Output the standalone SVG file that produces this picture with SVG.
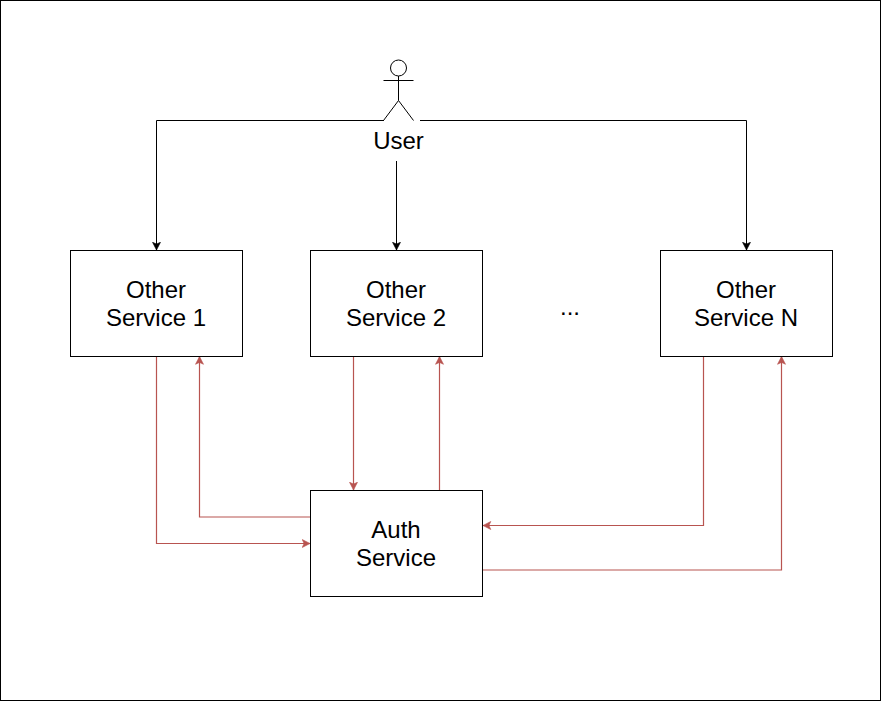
<svg xmlns="http://www.w3.org/2000/svg" width="881" height="701" viewBox="0 0 881 701">
<style>
.box{fill:#fff;stroke:#000;stroke-width:1}
.t{font-family:"Helvetica","Liberation Sans",Arial,sans-serif;font-size:24px;fill:#000;text-anchor:middle}
.k{fill:none;stroke:#000;stroke-width:1}
.r{fill:none;stroke:#b85450;stroke-width:1.2}
</style>
<defs>
<marker id="ab" markerUnits="userSpaceOnUse" markerWidth="11" markerHeight="11" refX="8.500" refY="5" orient="auto"><path d="M0.700 1L8.500 5L0.700 9L2.600 5Z" fill="#000" stroke="#000" stroke-width="0.6"/></marker>
<marker id="ar" markerUnits="userSpaceOnUse" markerWidth="11" markerHeight="11" refX="8.500" refY="5" orient="auto"><path d="M0.700 1L8.500 5L0.700 9L2.600 5Z" fill="#b85450" stroke="#b85450" stroke-width="0.6"/></marker>
</defs>
<rect id="frame" x="0.5" y="0.5" width="880" height="700" fill="#fff" stroke="#000"/>
<g id="connectors">
<path class="k" marker-end="url(#ab)" d="M384 120.500H156.500V250"/>
<path class="k" marker-end="url(#ab)" d="M396.500 161L396.500 250"/>
<path class="k" marker-end="url(#ab)" d="M420 120.500H746.500V250"/>
<path class="r" marker-end="url(#ar)" d="M156.500 356V543.500H310"/>
<path class="r" marker-end="url(#ar)" d="M310 517H199.500V356.500"/>
<path class="r" marker-end="url(#ar)" d="M353.500 356V490"/>
<path class="r" marker-end="url(#ar)" d="M439.500 490V356.500"/>
<path class="r" marker-end="url(#ar)" d="M703.500 356V525.500H483"/>
<path class="r" marker-end="url(#ar)" d="M483 570H781.500V356.500"/>
</g>
<g id="user">
<g class="k">
<circle cx="398.500" cy="68" r="8"/>
<path d="M398.500 76V100.500M383.500 80.500H413.500M398.500 100.500L383.500 120.500M398.500 100.500L413.500 120.500"/>
</g>
<text class="t" x="398.500" y="149">User</text>
</g>
<g id="service1"><rect class="box" x="70.500" y="250.500" width="172" height="106"/><text class="t" x="156" y="298">Other</text><text class="t" x="156" y="326">Service 1</text></g>
<g id="service2"><rect class="box" x="310.500" y="250.500" width="172" height="106"/><text class="t" x="396" y="298">Other</text><text class="t" x="396" y="326">Service 2</text></g>
<g id="ellipsis"><text class="t" x="570" y="315">...</text></g>
<g id="serviceN"><rect class="box" x="660.500" y="250.500" width="172" height="106"/><text class="t" x="746" y="298">Other</text><text class="t" x="746" y="326">Service N</text></g>
<g id="auth"><rect class="box" x="310.500" y="490.500" width="172" height="106"/><text class="t" x="396" y="538">Auth</text><text class="t" x="396" y="566">Service</text></g>
</svg>
